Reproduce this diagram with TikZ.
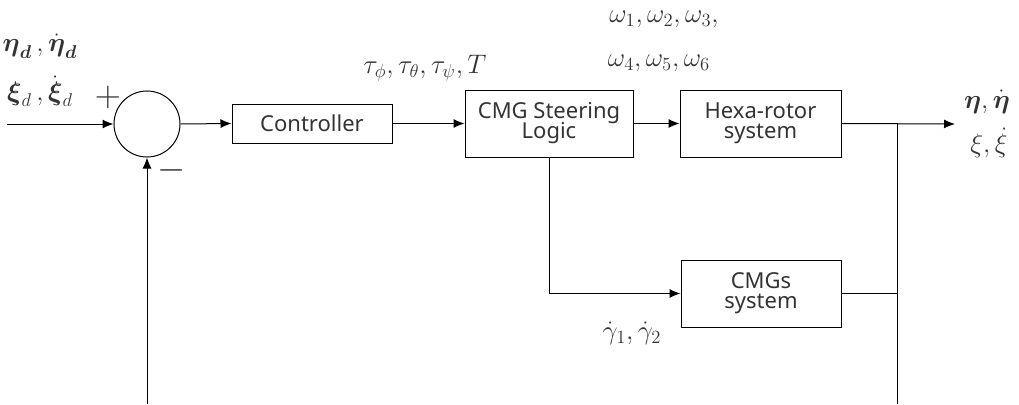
\documentclass[tikz,border=0pt]{standalone}
\usepackage{amsmath}
\usepackage{fontspec}
\setmainfont{Noto Sans}
\usetikzlibrary{arrows.meta}
\definecolor{txt}{HTML}{333333}
\newcommand{\mlab}[1]{\scalebox{1.55}{$#1$}}
\begin{document}
\begin{tikzpicture}[x=1pt,y=-1pt,
  blk/.style={draw=black,line width=1pt,minimum width=#1,inner sep=0pt,font=\fontsize{22}{25}\selectfont,text=txt,align=center},
  wire/.style={line width=1pt},
  arr/.style={wire,-{Latex[length=11pt,width=9pt]}},
  lbl/.style={text=txt,inner sep=0pt,font=\fontsize{17.28}{20}\selectfont}]
\useasboundingbox (0,0) rectangle (1019,404);
\node[draw,circle,line width=1pt,minimum size=66pt,inner sep=0pt] (sum) at (147,124) {};
\node[blk=160pt,minimum height=39pt] (ctrl) at (312,123.5) {Controller};
\node[blk=168pt,minimum height=67pt] (csl) at (549,123.5) {CMG Steering\\[-5pt]Logic};
\node[blk=161pt,minimum height=67pt] (hexa) at (760.5,123.5) {Hexa-rotor\\[-5pt]system};
\node[blk=160pt,minimum height=67pt] (cmgs) at (761,293.5) {CMGs\\[-5pt]system};
\coordinate (in) at (7,124);
\coordinate (out) at (955,124);
\coordinate (j1) at (897,124);
\coordinate (j2) at (897,293.5);
\coordinate (fb) at (897,404);
\coordinate (fbin) at (147,404);
\coordinate (corner) at (549,293.5);
\draw[arr] (in) -- (sum.west);
\draw[arr] (sum.east) -- (ctrl.west);
\draw[arr] (ctrl.east) -- (csl.west);
\draw[arr] (csl.east) -- (hexa.west);
\draw[arr] (hexa.east) -- (out);
\draw[wire] (csl.south) -- (corner);
\draw[arr] (corner) -- (cmgs.west);
\draw[wire] (cmgs.east) -- (j2);
\draw[wire] (j1) -- (fb);
\draw[arr] (fbin) -- (sum.south);
\node[lbl] (l1) at (40,46) {\mlab{\boldsymbol{\eta}_{\boldsymbol{d}}\,,\dot{\boldsymbol{\eta}}_{\boldsymbol{d}}}};
\node[lbl] (l2) at (40,91) {\mlab{\boldsymbol{\xi}_{d}\,,\dot{\boldsymbol{\xi}}_{d}}};
\node[lbl] (plus) at (108,97) {\scalebox{2.1}{$+$}};
\node[lbl] (minus) at (172,170) {\scalebox{2.1}{$-$}};
\node[lbl] (tau) at (425,68) {\mlab{\tau_{\phi},\tau_{\theta},\tau_{\psi},T}};
\node[lbl] (w1) at (664,19) {\mlab{\omega_1,\omega_2,\omega_3,}};
\node[lbl] (w2) at (659,63) {\mlab{\omega_4,\omega_5,\omega_6}};
\node[lbl] (o1) at (987,102) {\mlab{\boldsymbol{\eta},\dot{\boldsymbol{\eta}}}};
\node[lbl] (o2) at (989,143) {\mlab{\xi,\dot{\xi}}};
\node[lbl] (g) at (632,333) {\mlab{\dot{\gamma}_1,\dot{\gamma}_2}};
\end{tikzpicture}
\end{document}
